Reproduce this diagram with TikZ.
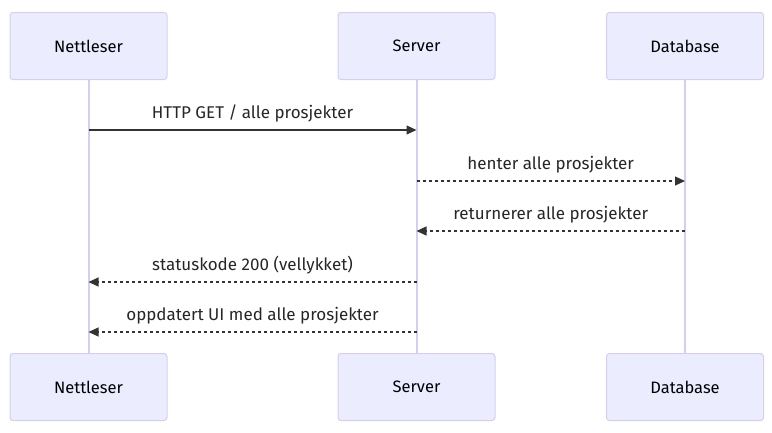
\documentclass[tikz,border=0pt]{standalone}
\usepackage{fontspec}
\setmainfont{Fira Sans}
\usetikzlibrary{positioning,arrows.meta}

\definecolor{actorfill}{HTML}{ECECFF}
\definecolor{actorline}{HTML}{D6CDF2}
\definecolor{signal}{HTML}{333333}

\tikzset{
  actor/.style={draw=actorline, fill=actorfill, rounded corners=3pt, line width=1pt,
    minimum width=157pt, minimum height=67pt, text=black, font=\fontsize{16.5}{19}\selectfont},
  lifeline/.style={draw=actorline, line width=2pt},
  msg/.style={draw=signal, line width=1.2pt, -{Triangle[length=10pt,width=9pt]}},
  reply/.style={msg, dash pattern=on 3pt off 3pt},
  msglabel/.style={above=4pt, text=black!85, font=\fontsize{17}{20}\selectfont}
}

\begin{document}
\begin{tikzpicture}[x=1pt, y=-1pt]

\useasboundingbox (0,0) rectangle (772,432);

\foreach \t/\x [count=\i] in {Nettleser/88.5, Server/416.5, Database/685}
  \node [actor] (top-\i) at (\x,46) {\t};

\foreach \t/\x [count=\i] in {Nettleser/88.5, Server/416.5, Database/685}
  \node [actor] (bottom-\i) at (\x,387) {\t};

\foreach \i in {1,...,3}
  \draw [lifeline] (top-\i.south) -- (bottom-\i.north);

\draw [msg] (top-1 |- 0,130) -- (top-2 |- 0,130)
  node [msglabel, midway] {HTTP GET / alle prosjekter};

\draw [reply] (top-2 |- 0,181) -- (top-3 |- 0,181)
  node [msglabel, midway] {henter alle prosjekter};

\draw [reply] (top-3 |- 0,231) -- (top-2 |- 0,231)
  node [msglabel, midway] {returnerer alle prosjekter};

\draw [reply] (top-2 |- 0,282) -- (top-1 |- 0,282)
  node [msglabel, midway] {statuskode 200 (vellykket)};

\draw [reply] (top-2 |- 0,332) -- (top-1 |- 0,332)
  node [msglabel, midway] {oppdatert UI med alle prosjekter};

\end{tikzpicture}
\end{document}
